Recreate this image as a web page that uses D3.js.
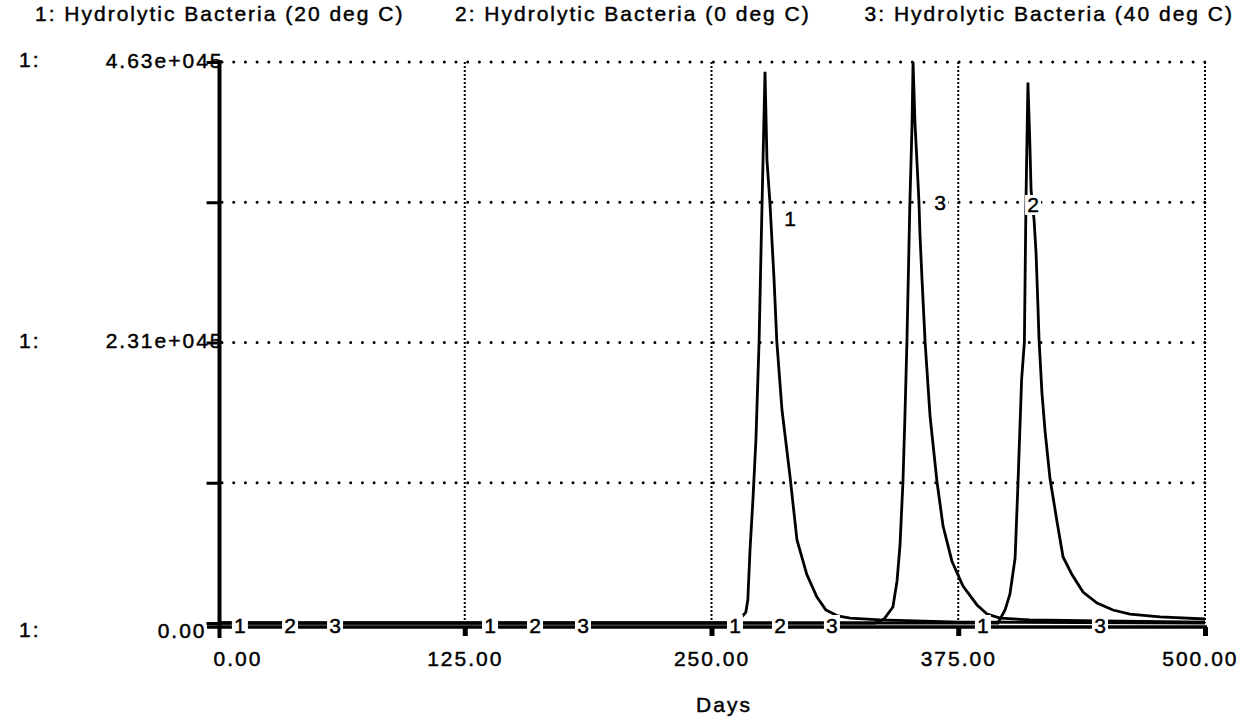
<!DOCTYPE html>
<html>
<head>
<meta charset="utf-8">
<script src="https://cdn.jsdelivr.net/npm/d3@7"></script>
<style>
  html, body { margin: 0; padding: 0; background: #fff; }
  svg { display: block; }
  text { font-family: "Liberation Sans", Arial, sans-serif; font-size: 21px; letter-spacing: 2px; fill: #000; stroke: #000; stroke-width: 0.45px; }
</style>
</head>
<body>
<svg id="chart" width="1243" height="721"></svg>
<script>
// ---- data (values in units of 1e45) ----
const legendLabels = ["1: Hydrolytic Bacteria (20 deg C)", "2: Hydrolytic Bacteria (0 deg C)", "3: Hydrolytic Bacteria (40 deg C)"];

const days1 = [0, 263.9, 265.4, 267.4, 268.4, 269.5, 271.0, 272.5, 274.1, 275.1, 276.1, 277.1, 278.1, 279.6, 281.7, 283.1, 285.7, 289.7, 293.3, 298.3, 303.4, 308.0, 314.0, 320.2, 335.4, 375.9, 500];
const vals1 = [0, 0, 0.05, 0.09, 0.19, 0.60, 1.02, 1.51, 2.32, 3.08, 3.82, 4.55, 3.82, 3.47, 2.83, 2.32, 1.76, 1.22, 0.685, 0.40, 0.215, 0.107, 0.058, 0.041, 0.025, 0.008, 0];

const days2 = [0, 395.1, 398.7, 401.2, 403.8, 405.3, 407.1, 408.5, 409.3, 410.3, 411.3, 411.9, 413.4, 414.4, 415.4, 415.9, 417.4, 419.0, 421.5, 425.0, 428.1, 432.6, 438.2, 445.3, 453.4, 462.0, 477.2, 500];
const vals2 = [0, 0, 0.107, 0.24, 0.536, 1.17, 2.01, 2.32, 3.47, 4.46, 3.94, 3.57, 3.33, 3.06, 2.60, 2.35, 1.90, 1.58, 1.19, 0.84, 0.545, 0.40, 0.256, 0.165, 0.107, 0.074, 0.05, 0.033];

const days3 = [0, 332.8, 337.4, 341.9, 344.0, 345.5, 347.0, 348.0, 349.0, 350.5, 351.6, 352.1, 353.1, 354.6, 355.1, 355.6, 356.6, 358.2, 360.7, 364.2, 367.3, 371.8, 377.4, 384.5, 389.6, 396.2, 411.3, 446.8, 500];
const vals3 = [0, 0, 0.033, 0.132, 0.347, 0.644, 1.17, 1.71, 2.32, 3.47, 4.12, 4.63, 4.12, 3.64, 3.47, 3.21, 2.85, 2.32, 1.71, 1.17, 0.80, 0.51, 0.305, 0.149, 0.074, 0.041, 0.025, 0.017, 0.008];

const xTickValues = [0, 125, 250, 375, 500];
const xTickLabels = ["0.00", "125.00", "250.00", "375.00", "500.00"];
const yTickValues = [0, 1.1575, 2.315, 3.4725, 4.63];
const yTickLabels = ["0.00", "", "2.31e+045", "", "4.63e+045"];
const xAxisTitle = "Days";

// curve number labels: series id, day, value
const curveLabelSeries = [1, 2, 3, 1, 2, 3, 1, 2, 3, 1, 1, 3, 2, 3];
const curveLabelDays   = [11.1, 36.5, 59.3, 137.8, 160.6, 184.9, 261.9, 284.7, 311.0, 289.8, 387.5, 365.8, 412.9, 446.8];
const curveLabelVals   = [0, 0, 0, 0, 0, 0, 0, 0, 0, 3.34, 0, 3.47, 3.45, 0];

// ---- chart ----
const svg = d3.select("#chart");
const x = d3.scaleLinear().domain([0, 500]).range([218, 1205]);
const y = d3.scaleLinear().domain([0, 4.63]).range([623, 62]);
const axisY = 627;
const FONT = '"Liberation Sans", Arial, sans-serif';

// legend
const legendX = [35, 455, null];
legendLabels.forEach((t, i) => {
  const tx = svg.append("text").attr("y", 21).text(t);
  if (legendX[i] !== null) tx.attr("x", legendX[i]);
  else tx.attr("x", 1234).attr("text-anchor", "end");
});

// grid
const grid = svg.append("g");
grid.selectAll("line.h").data(yTickValues.slice(1)).join("line")
  .attr("x1", x(0) + 4).attr("x2", x(500) + 3)
  .attr("y1", d => y(d)).attr("y2", d => y(d))
  .attr("stroke", "#000").attr("stroke-width", 3).attr("stroke-linecap", "round")
  .attr("stroke-dasharray", "0,11.7");
grid.selectAll("line.v").data(xTickValues.slice(1)).join("line")
  .attr("x1", d => x(d)).attr("x2", d => x(d))
  .attr("y1", y(4.63)).attr("y2", y(0))
  .attr("stroke", "#000").attr("stroke-width", 2)
  .attr("stroke-dasharray", "2,2");

// series
const seriesData = [[days1, vals1], [days2, vals2], [days3, vals3]];
const line = d3.line().x(d => x(d[0])).y(d => y(d[1]));
seriesData.forEach(([ds, vs]) => {
  svg.append("path")
    .datum(ds.map((d, i) => [d, vs[i]]))
    .attr("d", line)
    .attr("fill", "none").attr("stroke", "#000").attr("stroke-width", 2.8)
    .attr("stroke-linejoin", "miter");
});

// x axis
const xAxisG = svg.append("g").attr("transform", `translate(0,${axisY})`)
  .call(d3.axisBottom(x).tickValues(xTickValues).tickSize(9).tickPadding(15)
    .tickFormat((d, i) => xTickLabels[i]));
xAxisG.select(".domain").remove();
xAxisG.append("line").attr("x1", 207).attr("x2", x(500) + 2).attr("y1", 0).attr("y2", 0)
  .attr("stroke", "#000").attr("stroke-width", 3.5);
xAxisG.selectAll(".tick line").attr("stroke", "#000").attr("stroke-width", 5);
xAxisG.selectAll(".tick text")
  .attr("fill", "#000").style("font-size", "21px").style("font-family", FONT);
xAxisG.selectAll(".tick").filter((d, i) => i === 0).select("text").attr("text-anchor", "start").attr("x", -5);
xAxisG.selectAll(".tick").filter((d, i) => i === xTickValues.length - 1).select("text").attr("text-anchor", "end").attr("x", 33);
xAxisG.selectAll(".tick").filter((d, i) => i === 0).select("line").remove();

// curve labels with knockouts
const lab = svg.append("g");
curveLabelSeries.forEach((s, i) => {
  const cx = x(curveLabelDays[i]);
  const v = curveLabelVals[i];
  const cy = v === 0 ? (y(0) + axisY) / 2 : y(v);
  lab.append("rect").attr("x", cx - 8).attr("y", cy - 10).attr("width", 16).attr("height", 20).attr("fill", "#fff");
  lab.append("text").attr("x", cx + 1).attr("y", cy + 7.5).attr("text-anchor", "middle").text(s);
});

// y axis
const yAxisG = svg.append("g").attr("transform", `translate(${x(0) + 1.5},0)`)
  .call(d3.axisLeft(y).tickValues(yTickValues).tickSize(13).tickPadding(0)
    .tickFormat((d, i) => yTickLabels[i]));
yAxisG.select(".domain").remove();
yAxisG.append("line").attr("x1", 0).attr("x2", 0).attr("y1", y(4.63) - 2).attr("y2", 638)
  .attr("stroke", "#000").attr("stroke-width", 4);
yAxisG.selectAll(".tick line").attr("stroke", "#000").attr("stroke-width", 3);
yAxisG.selectAll(".tick text")
  .attr("fill", "#000").style("font-size", "21px").style("font-family", FONT)
  .attr("x", 4).attr("dy", null).attr("y", 5);
yAxisG.selectAll(".tick").filter((d, i) => i === 0).select("text").attr("x", -13).attr("y", 14);

// "1:" scale markers
[0, 2.315, 4.63].forEach(v => {
  svg.append("text").attr("x", 19).attr("y", y(v) + (v === 0 ? 14 : 5)).text("1:");
});

// x axis title
svg.append("text").attr("x", 724).attr("y", 712).attr("text-anchor", "middle").text(xAxisTitle);
</script>
</body>
</html>
